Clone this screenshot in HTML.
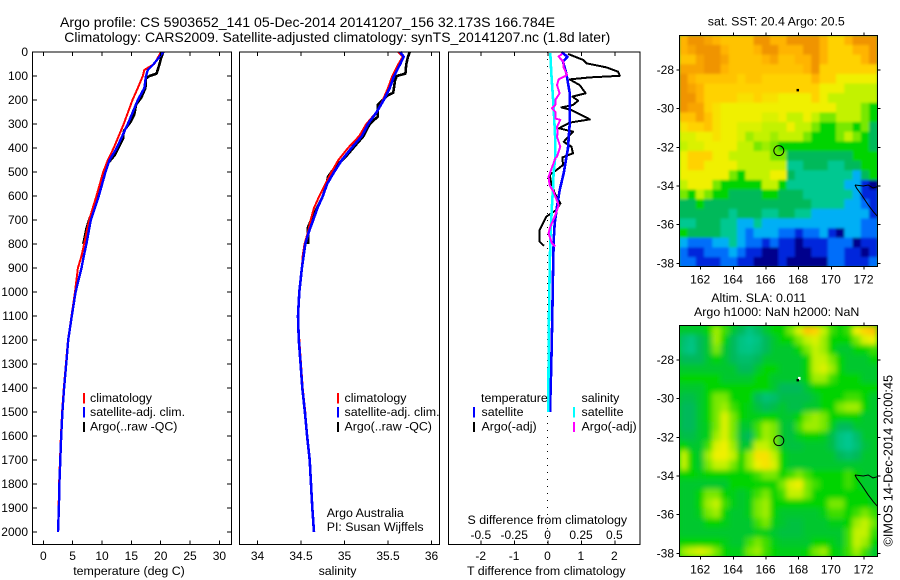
<!DOCTYPE html>
<html lang="en">
<head>
<meta charset="utf-8">
<title>Argo profile</title>
<style>
html,body{margin:0;padding:0;background:#fff;}
#figure{display:block;width:900px;height:580px;}
text{font-family:"Liberation Sans",Arial,sans-serif;font-size:12.4px;fill:#000;}
text.tick{font-size:12px;}
.title{font-size:13.8px;}
.ln{fill:none;stroke-linejoin:round;shape-rendering:crispEdges;}
</style>
</head>
<body>
<svg id="figure" xmlns="http://www.w3.org/2000/svg" width="900" height="580" viewBox="0 0 900 580">
  <defs>
    <filter id="smooth" x="-5%" y="-5%" width="110%" height="110%"><feGaussianBlur stdDeviation="2.6"/></filter>
    <filter id="soft" x="-5%" y="-5%" width="110%" height="110%"><feGaussianBlur stdDeviation="1.2"/></filter>
    <clipPath id="clip-sst"><rect x="679.3" y="35.3" width="198" height="231.4"/></clipPath>
    <clipPath id="clip-sla"><rect x="679.3" y="325.3" width="198" height="231.4"/></clipPath>
  </defs>
  <text class="title" x="60" y="27" textLength="495" lengthAdjust="spacingAndGlyphs">Argo profile: CS 5903652_141 05-Dec-2014 20141207_156 32.173S 166.784E</text>
  <text class="title" x="64.3" y="42" textLength="546" lengthAdjust="spacingAndGlyphs">Climatology: CARS2009. Satellite-adjusted climatology: synTS_20141207.nc (1.8d later)</text>

  <g id="panel-temp"></g>
  <g id="panel-sal"></g>
  <g id="panel-diff"></g>
  <g id="map-sst"></g>
  <g id="map-sla"></g>

  <text x="129" y="575" text-anchor="middle">temperature (deg C)</text>
  <text x="337.5" y="575" text-anchor="middle">salinity</text>
  <text x="546.3" y="575" text-anchor="middle">T difference from climatology</text>
  <text x="547.3" y="524" text-anchor="middle">S difference from climatology</text>

  <g>
    <rect x="83" y="393" width="2" height="10.5" fill="#ff0000"/>
    <rect x="83" y="407" width="2" height="10.5" fill="#0000ff"/>
    <rect x="83" y="422" width="2" height="10" fill="#000"/>
    <text x="90" y="402">climatology</text>
    <text x="90" y="416">satellite-adj. clim.</text>
    <text x="90" y="430.5">Argo(..raw -QC)</text>
  </g>
  <g>
    <rect x="337" y="393" width="2" height="10.5" fill="#ff0000"/>
    <rect x="337" y="407" width="2" height="10.5" fill="#0000ff"/>
    <rect x="337" y="422" width="2" height="10" fill="#000"/>
    <text x="344.5" y="402">climatology</text>
    <text x="344.5" y="416">satellite-adj. clim.</text>
    <text x="344.5" y="430.5">Argo(..raw -QC)</text>
    <text x="326.7" y="517">Argo Australia</text>
    <text x="326.7" y="531">PI: Susan Wijffels</text>
  </g>
  <g>
    <text x="481" y="402">temperature</text>
    <text x="581.5" y="402">salinity</text>
    <rect x="473" y="407" width="2" height="10.5" fill="#0000ff"/>
    <rect x="473" y="422" width="2" height="10" fill="#000"/>
    <rect x="573" y="407" width="2" height="10.5" fill="#00ffff"/>
    <rect x="573" y="422" width="2" height="10" fill="#ff00ff"/>
    <text x="481.5" y="416">satellite</text>
    <text x="481.5" y="430.5">Argo(-adj)</text>
    <text x="581.5" y="416">satellite</text>
    <text x="581.5" y="430.5">Argo(-adj)</text>
  </g>

  <text x="776.3" y="25.5" text-anchor="middle">sat. SST: 20.4 Argo: 20.5</text>
  <text x="758.7" y="302" text-anchor="middle">Altim. SLA: 0.011</text>
  <text x="776.7" y="316" text-anchor="middle">Argo h1000: NaN h2000: NaN</text>
  <text transform="translate(892.5,546.5) rotate(-90)" style="font-size:12.7px">©IMOS 14-Dec-2014 20:00:45</text>
</svg>

<script>
// ---------- depth-axis ticks ----------
const depthTicks = [0,100,200,300,400,500,600,700,800,900,1000,1100,1200,1300,1400,1500,1600,1700,1800,1900,2000];
const tempTicks = [0,5,10,15,20,25,30];
const salTicks = [34,34.5,35,35.5,36];
const salTickLabels = ['34','34.5','35','35.5','36'];
const tDiffTicks = [-2,-1,0,1,2];
const tDiffLabels = ['-2','-1','0','1','2'];
const sDiffTicks = [-0.5,-0.25,0,0.25,0.5];
const sDiffLabels = ['-0.5','-0.25','0','0.25','0.5'];

// ---------- temperature profiles ----------
const climDepth = [0,50,75,100,150,200,300,400,450,500,600,700,800,850,900,1000,1100,1200,1300,1400,1500,1600,1700,1800,1900,2000];
const climTemp = [20.07,18.9,17.2,16.95,16.1,15.2,13.7,12.0,11.0,10.2,9.05,7.8,6.95,6.5,5.9,5.4,4.8,4.2,3.85,3.5,3.2,3.0,2.85,2.7,2.6,2.5];
const satTemp = [20.45,18.8,17.8,17.5,17.2,16.1,14.4,12.5,11.3,10.6,9.45,8.1,7.35,6.9,6.5,5.5,4.85,4.25,3.9,3.55,3.25,3.05,2.9,2.75,2.65,2.5];
const argoTempDepth = [0,25,50,90,100,110,150,190,220,260,290,330,360,430,470,530,600,700,737,792,800];
const argoTemp = [20.45,20.07,19.8,19.3,18.1,17.5,17.4,16.7,15.8,15.5,14.9,13.7,13.6,12.15,10.8,9.9,9.3,7.8,7.35,6.9,6.8];

// ---------- salinity profiles ----------
const salClimDepth = [0,20,50,100,150,200,250,300,350,400,450,500,550,600,650,700,750,800,850,900,1000,1100,1200,1300,1400,1500,1600,1700,1800,1900,2000];
const climSal = [35.62,35.67,35.62,35.55,35.5,35.44,35.37,35.25,35.17,35.04,34.93,34.85,34.78,34.71,34.65,34.61,34.58,34.54,34.52,34.51,34.48,34.465,34.48,34.5,34.52,34.55,34.57,34.6,34.615,34.63,34.65];
const satSal = [35.64,35.68,35.64,35.57,35.52,35.45,35.37,35.27,35.2,35.08,34.97,34.88,34.8,34.75,34.69,34.64,34.59,34.55,34.53,34.51,34.48,34.465,34.475,34.495,34.515,34.545,34.57,34.6,34.615,34.63,34.65];
const argoSalDepth = [0,20,50,90,100,120,170,180,220,270,300,350,400,430,480,520,560,610,680,730,800];
const argoSal = [35.75,35.73,35.71,35.7,35.6,35.58,35.56,35.5,35.38,35.38,35.29,35.22,35.1,35.03,34.89,34.81,34.79,34.74,34.64,34.58,34.58];

// ---------- difference profiles ----------
const diffArgoTDepth = [8,33,47,64,82,99,106,114,138,172,186,203,221,231,242,281,294,318,332,374,394,422,439,471,492,512,547,589,631,658,686,742,790,808];
const diffArgoT = [0.6,1.05,1.15,1.75,2.1,2.15,1.25,0.65,0.95,1.13,0.73,0.9,0.75,0.4,0.7,1.25,0.65,0.33,0.75,0.47,0.7,0.75,0.43,0.45,0.25,0.05,0.1,0.2,0.37,0.25,-0.05,-0.25,-0.25,-0.12];
const diffSatTDepth = [0,20,40,90,130,170,200,300,400,505,575,644,714,783,922,1100,1300,1500];
const diffSatT = [0.4,0.58,0.45,0.55,0.6,0.65,0.65,0.65,0.6,0.47,0.35,0.27,0.2,0.17,0.15,0.13,0.1,0.06];
const diffSatSDepth = [5,89,228,367,436,505,575,644,783,922,1100,1300,1500];
const diffSatS = [0.0125,0.02,0.0375,0.05,0.05,0.0375,0.0325,0.025,0.0125,0.0075,0.003,0,-0.004];
const diffArgoSDepth = [8,19,40,61,96,114,138,172,200,221,235,249,277,283,311,339,353,394,436,443,520,555,583,638,680,728,756,797,811];
const diffArgoS = [0.1,0.075,0.11,0.11,0.1375,0.075,0.0625,0.0825,0.05,0.05,0.025,0.05,0.05,0.0875,0.0625,0.0675,0.0625,0.0875,0.0625,0.05,0,0.0075,0.0375,0.075,0.05,0.0125,0,0.025,0.05];

// ---------- map ticks ----------
const lonTicks = [162,164,166,168,170,172];
const latTicks = [-28,-30,-32,-34,-36,-38];
const argoLon = 166.784;
const argoLat = -32.173;
const coastLon = [171.45,171.55,171.86,172.26,172.57,172.8];
const coastLat = [-33.95,-34.12,-34.47,-34.98,-35.33,-35.55];
const coastNorthLon = [171.45,171.96,172.26,172.55,172.8];
const coastNorthLat = [-33.95,-34.0,-33.95,-34.1,-34.04];
const islandLon = 167.93;
const islandLat = -29.03;

// ---------- SST map cells (colour index, read by eye, north to south) ----------
const sstGrid = [
[11,12,12,11.5,11,10.5,10.5,10.5,10.5,12,12,11,11,12,12,12,12,11,10,10,11,12,12,12],
[11,11.5,12,12,12,11,10.5,10.5,10.5,11,12,12,11,11,11,12,12,11,10,10,10,11,11,12],
[10.5,10.5,11.5,12,12,11.5,10.5,10.5,10.5,10.5,11,11.5,10.5,10.5,11,11,12,11,10,10,10,10,11,12],
[11.5,11.5,11.5,12,12,11,10.5,10.5,10.5,10.5,10.5,10.5,10.5,10.5,10.5,11,12,10,10,10,10,10,10,10],
[12,11,10.5,10.5,10.5,10.5,10.5,10,10.5,10.5,10,10,10,10,10,10,11,10,10,9,9,9,9,9],
[12,11.5,11,10,10,10,10,10,10,10,10,10,10,10,10,10,10,9,9,9,8,8,8,8],
[12,12,11,10,10,10,10,9.5,9.5,10,9.5,9.5,9,9,9,9,10,9,8,8,8,8,8,8],
[12,11.5,11.5,10,9.5,9,9,9,9,9,9,9,9,9,9,9,9,9,9,8,8,8,7,6],
[10.5,10.5,11.5,10.5,9.5,9,9,9,9,9,8.5,8.5,9,8,8,9,8,7,7,8,8,8,7,6],
[9.5,10,10,10.5,9.5,9,9,8.5,8.5,8.5,8,8,8,9,8,8,7,6,6,7,7,6,7,5],
[8.5,8.5,9,9,9.5,9,9,8.5,7.5,8,8,7.5,8,8,8,7,6,6,6,7,8,7,6,5],
[8,8.5,8.5,9,9,9,9,8,8,7,7.5,7,6,6,6,6,6,6,6,6,6,6,6,5],
[9,10,10,10,9,9,8,8,8,8,8,7,7,5,5,5,5,5,5,5,5,6,6,6],
[9,10,10,9,9,9,9,8,8,8,8,8,8,4,4,5,5,5,4,4,5,5,6,6],
[9,9,9,9,9,9,7,6,8,8,8,9,9,5,4,4,4,4,4,4,4,3,5,6],
[8,9,9,9,7,6,6,6,6,6,8,8,6,4,4,4,4,4,4,4,3,3,1,0],
[7,6,8,7,6,6,5,5,5,5,6,6,5,5,5,4,4,4,4,4,4,3,1,1],
[5,5,6,5,5,5,5,5,5,5,5,5,5,5,5,5,4,4,4,4,3,3,2,1],
[5,5,5,5,5,5,4,5,5,5,4,4,5,5,4,4,3,3,3,3,3,3,3,1],
[4,4,5,5,5,4,4,3,3,4,3,3,3,3,3,3,3,3,3,3,3,3,2,2],
[6,5,5,5,5,4,4,3,2,3,3,3,2,2,1,2,2,3,1,0,3,3,2,2],
[3,2,2,2,3,3,4,3,2,2,1,2,1,1,0,1,1,1,2,2,2,0,1,1],
[2,1,1,2,2,2,3,2,1,1,0,0,1,1,0,0,1,1,2,2,1,1,0,1],
[2,2,1,1,1,2,2,1,1,0,0,0,1,0,0,0,0,0,2,2,1,1,1,2]
];

// ---------- SLA map cells (colour index, read by eye, north to south) ----------
const slaGrid = [
[5.5,5.5,5.5,6,7.5,6.5,5.5,5,4.3,4.8,5.5,6,6,7,8.5,10.5,10,8,6.5,6,6.5,9,10,10.5],
[4.6,4.3,5,5.5,7.5,6,5,4.3,4,4.3,5,5.5,6,6,7,8,8.5,7.5,6,6,6,7,8.5,9],
[4.5,4.2,5,5.5,7,5.5,5,4.3,4.2,4.5,5,5.5,5.5,5.5,6,7,8,7.5,6,5.5,5.5,6,6,6.5],
[5,5,5,5.5,6,5.5,5,4.7,4.7,5,5.5,5.5,5.5,5.5,5.5,6,8,8,7,6,5.5,5.5,5.5,6],
[5.5,5.5,5.5,5.5,5.5,5.5,5.5,5,5,5.5,6,6,5.5,5.5,5.5,6,8,8.5,7.5,6,5.5,5.5,5.5,5.5],
[6,6,6,6,6,5.5,5.5,5.5,5.5,6,6,5.5,5.5,5.5,5.5,6,7.5,7.5,6.5,6,6,6,5.5,5.5],
[5.5,5.5,5.5,6,6,6,6,6,6,6,6,5.5,5,5,5,5.5,6,6,6,6,6,6,6,6],
[5.2,5.2,5.5,6,7,7,6,6,6,5,4.5,4.7,5.2,5.2,5.2,5.2,5.5,6,6,6,6.5,6.5,6,5.5],
[5,5,5.5,6,7,7.5,6.5,6,5.8,5.3,5,5.2,5.5,5.2,5.2,5.5,5.5,6,6,7,7.5,7.5,6,5.5],
[5,5,5.5,6,7,8.5,7,6,5.8,5.8,6,6,5.5,5.5,6,7,7.5,7,6,6,6,6,5.5,5.5],
[5,5,5.5,5.8,7,8.5,7,5.5,5.5,6.5,7.5,7,5.5,5.3,6.5,7.5,7.5,7,5.8,5,5,5.5,5.5,5.5],
[5.2,5.2,5.5,5.8,7.5,8.5,7,5.3,5,6.5,7.5,7,5.5,5.3,5.8,6,6,5.8,5.2,4.3,4,4.7,5.5,5.5],
[6,5.5,5.5,6.5,8.5,9,7.5,5.5,5.5,8,8,7,5.5,5.3,5.3,5.5,5.5,5.5,5.2,4.3,4,4.5,5.3,5.5],
[8,6,5.5,7.5,9,9,8,6,7.5,9.5,9.5,8,6,5.5,5.5,5.5,5.5,5.5,5.5,5,4.7,5,5.5,5.5],
[8,6,5.5,7,8,8,7,6,7.5,9,9.5,8.5,6,5.5,5.5,5.5,5.5,5.5,5.5,5.5,5.5,5.5,5.5,5.5],
[6,6,5.8,6,6,6,6,6,6,6.5,7,7,6,6.5,7,6.5,6,6,6,6,6.5,6,5.5,5.5],
[5.5,5.5,5.5,5.5,5.5,5.5,6,6,6,6,6,6,7,8.5,9,7,6.5,6,6,6,6.5,6,5.5,5.5],
[5.5,5.5,6,7,7,6,5.8,5.5,5.8,6.5,7,6,6.5,8,8,7,6,6,6,6,6,6,6,5.5],
[5.5,5.5,6,7.5,8,6.5,5.8,5.5,5.8,7,7.5,6,6,6,6,6,6,6,7,7,6,6,6,5.8],
[5.5,5.5,5.8,7,7.5,6,5.5,5.5,5.8,7,7.5,6,5.5,5.5,5.5,5.5,5.5,5.8,6.5,6.5,6,6.5,7,6.5],
[5.5,5.5,5.5,6,6,5.8,5.5,5.5,5.5,6.5,7,5.8,5.5,5.3,5.3,5.5,5.5,5.5,5.8,5.8,6,7.5,8,7],
[5.5,5.5,5.5,5.5,5.5,5.5,5.5,5.5,5.5,5.8,5.8,5.5,5.3,5.3,5.3,5.5,5.5,5.5,5.5,5.5,6.5,8,8,6.5],
[6,6,6,6,6,5.8,5.5,5.5,6.5,7,6.5,5.8,5.5,5.5,5.5,5.5,6,6,5.8,5.5,6.5,8,7.5,6],
[7.5,8,8.5,8,7,6,5.8,5.8,7,7.5,6.5,6,5.8,5.8,5.8,6,7,7.5,6,5.8,6.5,7.5,6.5,5.5]
];

// ---------- drawing ----------
const NS = 'http://www.w3.org/2000/svg';
const PANEL_TOP = 52, PANEL_BOTTOM = 544.5;
const yDepth = d => PANEL_TOP + d * 0.24;
const xTemp = t => 43.3 + t * 5.87;
const xSal = s => 257.5 + (s - 34) * 87;
const xTDiff = t => 548 + t * 33.4;
const xSDiff = s => 548.6 + s * 133.6;
const xLon = lon => 700.7 + (lon - 162) * 16.33;
const yLatSst = lat => 70 + (-28 - lat) * 19.33;
const yLatSla = lat => 360 + (-28 - lat) * 19.33;

function setAll(el, attrs) {
  for (const k in attrs) el.setAttribute(k, attrs[k]);
  return el;
}
function addLine(parent, name, x1, y1, x2, y2) {
  const el = document.createElementNS(NS, 'line');
  setAll(el, {x1, y1, x2, y2, stroke: '#000', 'stroke-width': 1, 'shape-rendering': 'crispEdges'});
  
  
  parent.appendChild(el);
  return el;
}
function addText(parent, name, x, y, str, anchor) {
  const el = document.createElementNS(NS, 'text');
  setAll(el, {x, y, 'text-anchor': anchor, class: 'tick'});
  el.textContent = str;
  
  
  parent.appendChild(el);
  return el;
}
function addFrame(parent, name, x, y, w, h) {
  const el = document.createElementNS(NS, 'rect');
  setAll(el, {x, y, width: w, height: h, fill: 'none', stroke: '#000', 'stroke-width': 1, 'shape-rendering': 'crispEdges'});
  
  
  parent.appendChild(el);
}
function addSeries(parent, name, xs, ds, xf, color, width) {
  const el = document.createElementNS(NS, 'polyline');
  const pts = xs.map((v, i) => xf(v).toFixed(1) + ',' + yDepth(ds[i]).toFixed(1)).join(' ');
  setAll(el, {points: pts, stroke: color, 'stroke-width': width, class: 'ln'});
  
  
  parent.appendChild(el);
}

// temperature panel
const pT = document.getElementById('panel-temp');
addSeries(pT, 'argo-temperature-line', argoTemp, argoTempDepth, xTemp, '#000', 2.6);
addSeries(pT, 'climatology-temperature-line', climTemp, climDepth, xTemp, '#ff0000', 2);
addSeries(pT, 'satellite-temperature-line', satTemp, climDepth, xTemp, '#0000ff', 2.4);
addFrame(pT, 'temperature-plot-frame', 32.5, PANEL_TOP, 199, PANEL_BOTTOM - PANEL_TOP);
depthTicks.forEach(d => {
  addLine(pT, 'depth-tick-left', 32.5, yDepth(d), 37, yDepth(d));
  addLine(pT, 'depth-tick-right', 227, yDepth(d), 231.5, yDepth(d));
  addText(pT, 'depth-tick-label', 28, yDepth(d) + 4, String(d), 'end');
});
tempTicks.forEach(t => {
  addLine(pT, 'temperature-tick-top', xTemp(t), PANEL_TOP, xTemp(t), PANEL_TOP + 4);
  addLine(pT, 'temperature-tick-bottom', xTemp(t), PANEL_BOTTOM - 4, xTemp(t), PANEL_BOTTOM);
  addText(pT, 'temperature-tick-label', xTemp(t), 560, String(t), 'middle');
});

// salinity panel
const pS = document.getElementById('panel-sal');
addSeries(pS, 'argo-salinity-line', argoSal, argoSalDepth, xSal, '#000', 2.6);
addSeries(pS, 'climatology-salinity-line', climSal, salClimDepth, xSal, '#ff0000', 2);
addSeries(pS, 'satellite-salinity-line', satSal, salClimDepth, xSal, '#0000ff', 2.6);
addFrame(pS, 'salinity-plot-frame', 239.5, PANEL_TOP, 200, PANEL_BOTTOM - PANEL_TOP);
salTicks.forEach((s, i) => {
  addLine(pS, 'salinity-tick-top', xSal(s), PANEL_TOP, xSal(s), PANEL_TOP + 4);
  addLine(pS, 'salinity-tick-bottom', xSal(s), PANEL_BOTTOM - 4, xSal(s), PANEL_BOTTOM);
  addText(pS, 'salinity-tick-label', xSal(s), 560, salTickLabels[i], 'middle');
});

// difference panel
const pD = document.getElementById('panel-diff');
const zeroLine = addLine(pD, 'zero-difference-line', 547.5, PANEL_TOP, 547.5, PANEL_BOTTOM);
zeroLine.setAttribute('stroke-dasharray', '1 6');
addSeries(pD, 'argo-t-difference-line', diffArgoT, diffArgoTDepth, xTDiff, '#000', 2);
addSeries(pD, 'satellite-t-difference-line', diffSatT, diffSatTDepth, xTDiff, '#0000ff', 2.6);
addSeries(pD, 'satellite-s-difference-line', diffSatS, diffSatSDepth, xSDiff, '#00ffff', 2.6);
addSeries(pD, 'argo-s-difference-line', diffArgoS, diffArgoSDepth, xSDiff, '#ff00ff', 2);
addFrame(pD, 'difference-plot-frame', 448.5, PANEL_TOP, 191.5, PANEL_BOTTOM - PANEL_TOP);
tDiffTicks.forEach((t, i) => {
  addLine(pD, 't-difference-tick-top', xTDiff(t), PANEL_TOP, xTDiff(t), PANEL_TOP + 4);
  addLine(pD, 't-difference-tick-bottom', xTDiff(t), PANEL_BOTTOM - 4, xTDiff(t), PANEL_BOTTOM);
  addText(pD, 't-difference-tick-label', xTDiff(t) - 0.5, 560, tDiffLabels[i], 'middle');
});
sDiffTicks.forEach((s, i) => {
  addText(pD, 's-difference-tick-label', xSDiff(s) - 1, 539, sDiffLabels[i], 'middle');
});

// colour scale
const colourStops = [[0,0,140],[0,40,220],[0,110,250],[0,175,245],[0,200,145],[0,185,90],[0,212,0],[120,232,0],[195,242,0],[240,240,0],[255,210,0],[255,180,0],[240,148,0]];
function colourOf(v) {
  const lo = Math.max(0, Math.min(colourStops.length - 1, Math.floor(v)));
  const hi = Math.min(colourStops.length - 1, lo + 1);
  const f = Math.max(0, Math.min(1, v - lo));
  const c = colourStops[lo].map((a, i) => Math.round(a + (colourStops[hi][i] - a) * f));
  return 'rgb(' + c.join(',') + ')';
}

function drawMap(gid, prefix, grid, top, yLat, clipId, filterId, baseValue) {
  const root = document.getElementById(gid);
  const LEFT = 679.3, RIGHT = 877.3, BOTTOM = top + 231.4;
  const clipG = document.createElementNS(NS, 'g');
  clipG.setAttribute('clip-path', 'url(#' + clipId + ')');
  
  
  root.appendChild(clipG);
  const base = document.createElementNS(NS, 'rect');
  setAll(base, {x: LEFT, y: top, width: RIGHT - LEFT, height: BOTTOM - top, fill: colourOf(baseValue)});
  
  
  clipG.appendChild(base);
  const cellsG = document.createElementNS(NS, 'g');
  cellsG.setAttribute('filter', 'url(#' + filterId + ')');
  
  
  clipG.appendChild(cellsG);
  const rows = grid.length, cols = grid[0].length;
  const cw = (RIGHT - LEFT) / cols, ch = (BOTTOM - top) / rows;
  grid.forEach((row, r) => row.forEach((v, c) => {
    const cell = document.createElementNS(NS, 'rect');
    setAll(cell, {x: (LEFT + c * cw).toFixed(2), y: (top + r * ch).toFixed(2), width: (cw + 0.5).toFixed(2), height: (ch + 0.5).toFixed(2), fill: colourOf(v)});
    
    
    cellsG.appendChild(cell);
  }));
  const poly = (xs, ys, nm) => {
    const el = document.createElementNS(NS, 'polyline');
    setAll(el, {points: xs.map((lon, i) => xLon(lon).toFixed(1) + ',' + yLat(ys[i]).toFixed(1)).join(' '), fill: 'none', stroke: '#000', 'stroke-width': 1});
    
    
    clipG.appendChild(el);
  };
  poly(coastLon, coastLat, prefix + '-coastline-west');
  poly(coastNorthLon, coastNorthLat, prefix + '-coastline-north');
  const hl = document.createElementNS(NS, 'rect');
  setAll(hl, {x: xLon(islandLon) + 0.5, y: yLat(islandLat) - 3, width: 2.5, height: 3, fill: prefix === 'sla' ? '#fff' : 'none'});
  
  
  clipG.appendChild(hl);
  const isl = document.createElementNS(NS, 'rect');
  setAll(isl, {x: xLon(islandLon) - 1, y: yLat(islandLat) - 1, width: 2.5, height: 2.5, fill: '#000'});
  
  
  clipG.appendChild(isl);
  const ring = document.createElementNS(NS, 'circle');
  setAll(ring, {cx: xLon(argoLon), cy: yLat(argoLat), r: 5, fill: 'none', stroke: '#000', 'stroke-width': 1});
  
  
  root.appendChild(ring);
  addFrame(root, prefix + '-map-frame', LEFT, top, RIGHT - LEFT, BOTTOM - top);
  lonTicks.forEach(lon => {
    addLine(root, prefix + '-lon-tick-top', xLon(lon), top - 3, xLon(lon), top);
    addLine(root, prefix + '-lon-tick-bottom', xLon(lon), BOTTOM, xLon(lon), BOTTOM + 3);
    addText(root, prefix + '-lon-tick-label', xLon(lon) - 0.5, BOTTOM + 17, String(lon), 'middle');
  });
  latTicks.forEach(lat => {
    addLine(root, prefix + '-lat-tick-left', LEFT - 3, yLat(lat), LEFT, yLat(lat));
    addLine(root, prefix + '-lat-tick-right', RIGHT, yLat(lat), RIGHT + 3, yLat(lat));
    addText(root, prefix + '-lat-tick-label', 674, yLat(lat) + 4, String(lat), 'end');
  });
}
drawMap('map-sst', 'sst', sstGrid, 35.3, yLatSst, 'clip-sst', 'soft', 5);
drawMap('map-sla', 'sla', slaGrid, 325.3, yLatSla, 'clip-sla', 'smooth', 5.7);
</script>
</body>
</html>
